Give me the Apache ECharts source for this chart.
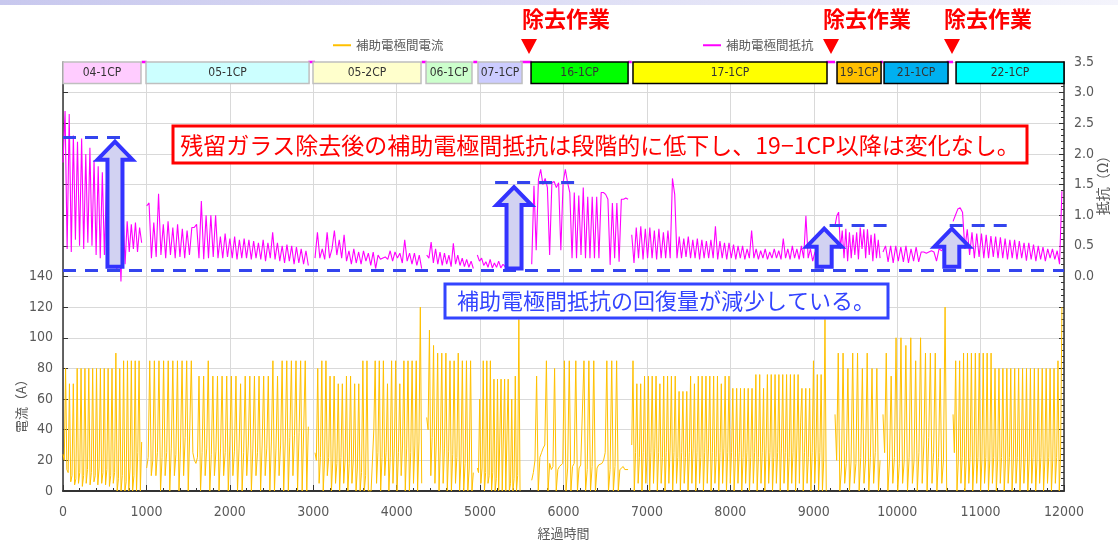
<!DOCTYPE html>
<html><head><meta charset="utf-8">
<script src="https://cdn.jsdelivr.net/npm/echarts@6/dist/echarts.min.js"></script>
<style>html,body{margin:0;padding:0;background:#fff}#c{width:1118px;height:545px}</style>
</head><body><div id="c"></div>
<script>
// ---------- CP segments ----------
const cpNames = ['04-1CP','05-1CP','05-2CP','06-1CP','07-1CP','16-1CP','17-1CP','19-1CP','21-1CP','22-1CP'];
const cpBoxStart = [0, 995, 2997, 4352, 4975, 5611, 6833, 9279, 9843, 10706];
const cpBoxEnd = [935, 2950, 4292, 4903, 5503, 6774, 9159, 9807, 10610, 12000];
// data time range of each segment
const segStart = [0, 1003, 3021, 4360, 4967, 5619, 6818, 9255, 9830, 10670];
const segEnd = [943, 2941, 4300, 4919, 5479, 6774, 9150, 9795, 10594, 11975];

// ---------- current (A), values read along each segment ----------
const cur04 = [24,20,80,14, 12,70,6, 10,70,4, 8,80,5, 12,80,3, 10,80,5, 14,80,4, 12,80,6, 10,80,4, 15,80,5, 12,80,4, 14,80,3, 10,80,5, 12,90,0, 8,80,0, 10,85,0, 6,85,0, 15,85,0, 10,85,0, 25,85,0, 32];
const cur05a = [15,22,85,10, 20,85,10, 25,85,0, 22,85,10, 25,85,0, 28,85,10, 24,85,0, 30,85,10, 35,85,0, 40,85,25, 20,18,
  22,75,0, 25,75,10, 28,85,0, 24,75,10, 26,75,0, 28,75,10, 25,75,0, 30,75,10, 26,75,0, 28,70,0, 25,75,10, 30,75,0, 28,75,10, 25,75,0, 30,75,10, 28,75,0, 32,85,0, 28,75,10, 30,85,0, 32,85,0, 35,85,10, 36,85,0, 38,85,0, 40,85,0, 42];
const cur05b = [25,20,80,5, 22,85,0, 20,85,10, 22,75,0, 20,75,5, 18,70,0, 22,70,5, 20,75,0, 18,75,5, 20,70,0, 15,70,0, 12,85,0, 10,85,0, 0,0, 20,40,85,5, 25,85,0, 22,85,10, 25,70,0, 22,85,5, 28,85,0, 25,70,10, 30,85,0, 28,85,0, 25,85,5, 30,85,0, 32,120,5];
const cur06 = [48,40,105,10, 35,95,5, 32,90,0, 30,90,5, 28,90,0, 26,85,0, 24,85,5, 22,90,0, 20,85,0, 18,85,0, 15,85,0, 12];
const cur07 = [15,12,60,5, 15,85,0, 12,85,5, 10,85,0, 12,73,0, 8,73,0, 0,73,0, 0,73,0, 0,73,0, 5,60,0, 8,75,0, 10,112,0];
const cur16 = [7,12,20,75,0, 22,25,28,30,85,0, 18,14,16,80,0, 14,16,15,18,85,0, 15,85,0, 16,18,85,0, 15,17,16,85,0, 14,85,0, 16,85,0, 15,17,16,18,20,25,85,0, 14,85,0, 16,85,0, 14,15,16,14,13,14];
const cur17 = [30,85,0, 25,70,5, 22,70,0, 25,75,5, 22,75,0, 25,75,5, 28,75,0, 25,70,5, 22,75,0, 25,75,5, 28,75,0, 25,75,5, 22,65,0, 25,65,5, 22,65,0, 25,75,5, 28,70,0, 25,75,5, 22,75,0, 25,75,5, 28,75,0, 25,75,5, 22,75,0, 25,70,5, 28,75,0, 25,75,5,
  25,67,0, 22,67,5, 25,67,0, 22,67,5, 25,67,0, 22,67,5, 25,76,0, 22,76,5, 25,67,0, 28,76,5, 25,76,0, 22,76,5, 25,76,0, 28,76,5, 25,76,0, 22,76,5, 25,76,0, 30,76,5, 45,67,0, 25,67,5, 22,67,0, 25,85,5, 28,76,0, 25,76,0, 20,112,0];
const cur19 = [50,20,90,0, 15,90,5, 18,80,0, 20,90,5, 18,90,0, 22,80,5, 20,90,0, 22,80,5, 25,80,0, 20];
const cur21 = [50,25,90,0, 20,75,5, 22,100,0, 18,100,5, 20,95,0, 22,100,5, 20,85,0, 25,100,5, 30,90,0, 35,90,5, 25,90,0, 22,80,5, 20,120,0];
const cur22 = [50,25,85,0, 20,85,5, 22,90,0, 20,90,5, 22,90,0, 20,90,5, 22,90,0, 20,90,5, 22,90,0, 20,90,5, 22,80,0, 20,80,5, 22,80,0, 20,80,5, 22,80,0, 20,80,5, 22,80,0, 20,80,5, 22,80,0, 20,80,5, 22,80,0, 20,80,5, 22,80,0, 20,80,5, 22,80,0, 20,80,5, 22,85,0, 25,120];

// ---------- resistance (Ω) ----------
const res04 = [1.86,2.7,0.45,2.65,0.4,2.3,0.6,2.2,0.5,2.25,0.45,2.0,0.55,2.1,0.5,1.9,0.35,1.8,0.3,1.7,0.35,1.5,0.2,1.3,0.25,1.0,0.1,0.95,-0.08,1.05,0.2,0.9,0.4,0.85,0.45,0.88,0.4,0.8,0.55];
const res05a = [1.15,1.2,0.3,0.88,0.32,1.35,0.35,0.85,0.3,0.9,0.35,0.8,0.3,0.85,0.32,0.78,0.3,0.75,0.35,0.8,0.8,0.85,0.3,1.23,0.28,1.0,0.3,1.0,0.32,1.0,0.3,0.65,0.3,0.7,0.32,0.62,0.3,0.65,0.28,0.6,0.3,0.62,0.3,0.6,0.28,0.58,0.3,0.55,0.28,0.6,0.25,0.55,0.3,0.72,0.28,0.55,0.25,0.5,0.22,0.52,0.25,0.5,0.2,0.48,0.22,0.45,0.2,0.42,0.18];
const res05b = [0.3,0.72,0.3,0.45,0.28,0.72,0.3,0.45,0.75,0.35,0.6,0.3,0.68,0.25,0.42,0.2,0.45,0.22,0.4,0.2,0.42,0.25,0.38,0.18,0.4,0.13,0.35,0.28,0.3,0.32,0.28,0.42,0.25,0.4,0.3,0.38,0.22,0.6,0.25,0.38,0.2,0.38,0.18,0.35,0.13];
const res06 = [0.35,0.3,0.56,0.22,0.45,0.2,0.4,0.18,0.38,0.2,0.35,0.16,0.54,0.2,0.35,0.18,0.3,0.16,0.28,0.15,0.25,0.13];
const res07 = [0.35,0.25,0.3,0.18,0.24,0.15,0.28,0.14,0.22,0.15,0.25,0.14,0.2,0.16,0.18,0.17,0.2,0.18,0.22,0.2,0.15];
const res16 = [0.2,1.48,0.43,1.58,1.75,1.5,1.6,1.45,0.35,1.53,1.55,1.45,1.53,0.43,1.53,1.75,1.53,1.37,0.3,1.37,0.3,1.32,0.35,1.45,0.3,1.3,0.3,1.3,0.3,1.3,0.3,1.37,1.37,1.34,1.26,0.19,1.2,0.3,1.2,0.24,1.26,1.26,1.28,1.26];
const res17 = [0.68,0.22,0.8,0.3,0.82,0.28,0.78,0.3,0.8,0.3,0.75,0.28,0.78,0.3,0.72,0.3,0.75,0.3,1.6,1.34,0.3,0.65,0.3,0.62,0.32,0.65,0.3,0.6,0.3,0.62,0.28,0.6,0.3,0.58,0.3,0.6,0.3,0.82,0.28,0.58,0.3,0.55,0.28,0.55,0.3,0.52,0.28,0.5,
  0.3,0.5,0.28,0.45,0.3,0.75,0.3,0.45,0.28,0.42,0.3,0.45,0.28,0.4,0.3,0.45,0.3,0.42,0.28,0.62,0.3,0.45,0.28,0.5,0.3,0.45,0.28,0.5,0.3,0.99,0.3,0.45,0.25,0.4,0.2,0.35,0.13,0.3,0.15];
const res19 = [0.83,0.99,1.05,0.45,0.75,0.3,0.78,0.25,0.72,0.3,0.68,0.35,0.72,0.28,0.8,0.45,0.77,0.3,0.77,0.35,0.68,0.25,0.7,0.3,0.6,0.3];
const res21 = [0.4,0.5,0.24,0.5,0.22,0.5,0.25,0.48,0.24,0.5,0.22,0.45,0.25,0.48,0.24,0.4,0.4,0.38,0.4,0.42,0.4,0.25,0.45,0.42,0.48,0.5];
const res22 = [0.9,1.0,1.1,1.12,1.05,0.45,0.77,0.35,0.72,0.3,0.7,0.32,0.7,0.3,0.68,0.3,0.66,0.32,0.65,0.3,0.64,0.3,0.62,0.28,0.6,0.3,0.6,0.28,0.58,0.3,0.55,0.26,0.55,0.28,0.52,0.25,0.5,0.28,0.48,0.25,0.45,0.3,0.45,0.28,0.42,0.2,1.39];

const curSegs = [cur04,cur05a,cur05b,cur06,cur07,cur16,cur17,cur19,cur21,cur22];
const resSegs = [res04,res05a,res05b,res06,res07,res16,res17,res19,res21,res22];

// ---------- annotation positions (data units) ----------
const levelLines = [[0,12000,0.11],[0,740,2.28],[5180,6220,1.54],[9190,9890,0.83],[10630,11320,0.83]];
const arrowX = [623, 5407, 9125, 10655];
const arrowBottom = [0.16, 0.13, 0.16, 0.16];
const arrowTip = [2.2, 1.46, 0.78, 0.78];

// ---------- styles ----------
const cpFill = ['#FFCCFF','#CCFFFF','#FFFFCC','#CCFFCC','#CCCCFF','#00FF00','#FFFF00','#FFC000','#00B0F0','#00FFFF'];
const cpBorder = ['#BFBFBF','#BFBFBF','#BFBFBF','#BFBFBF','#BFBFBF','#000','#000','#000','#000','#000'];
const CUR = '#FFC000', RES = '#FF00FF';
const NUMF = '"DejaVu Sans Condensed","Liberation Sans Narrow","Noto Sans",sans-serif';
const JPF = '"Noto Sans CJK JP",sans-serif';

function segPoints(x0, x1, vals){
  const n = vals.length;
  return vals.map((v,i)=>[x0 + (x1-x0)*i/(n-1), v]);
}

const series = [];
curSegs.forEach((vals,i)=>{
  series.push({name:'補助電極間電流', type:'line', yAxisIndex:0, showSymbol:false, symbol:'none',
    lineStyle:{color:CUR, width:1}, itemStyle:{color:CUR}, data: segPoints(segStart[i], segEnd[i], vals), z:2});
});
resSegs.forEach((vals,i)=>{
  const s = {name:'補助電極間抵抗', type:'line', yAxisIndex:1, showSymbol:false, symbol:'none',
    lineStyle:{color:RES, width:1.1}, itemStyle:{color:RES}, data: segPoints(segStart[i], segEnd[i], vals), z:3};
  if (i===0){
    s.markArea = {silent:true, z:4,
      data: cpNames.map((n,k)=>[
        {name:n, xAxis:cpBoxStart[k], yAxis:3.15, itemStyle:{color:cpFill[k], borderColor:cpBorder[k], borderWidth:1.5, opacity:1},
         label:{show:true, position:'inside', color:'#333', fontSize:12, fontFamily:NUMF}},
        {xAxis:cpBoxEnd[k], yAxis:3.5}])};
    s.markLine = {silent:true, symbol:'none', z:5, label:{show:false},
      lineStyle:{color:'#3344EE', width:3, type:[13,9]},
      data: levelLines.map(l=>[{coord:[l[0],l[2]]},{coord:[l[1],l[2]]}])};
  }
  series.push(s);
});
// clipped resistance during gaps shows at the very top
const gapData = [];
for (let i=0;i<segEnd.length-1;i++){ gapData.push([segEnd[i],3.5],[segStart[i+1],3.5]); if(i<segEnd.length-2) gapData.push([segStart[i+1],'-']); }
series.push({name:'gap', type:'line', yAxisIndex:1, showSymbol:false, symbol:'none', clip:false, connectNulls:false,
  lineStyle:{color:RES, width:2.5}, data: gapData, z:1});

const option = {
  animation:false,
  backgroundColor:'#fff',
  grid:{left:63, right:54, top:62, bottom:51},
  legend:[
    {data:['補助電極間電流'], left:328, top:34, icon:'rect', itemWidth:18, itemHeight:2, itemGap:4,
      textStyle:{color:'#595959', fontSize:12.5, fontFamily:JPF}},
    {data:['補助電極間抵抗'], left:698, top:34, icon:'rect', itemWidth:18, itemHeight:2, itemGap:4,
      textStyle:{color:'#595959', fontSize:12.5, fontFamily:JPF}}
  ],
  xAxis:{type:'value', min:0, max:12000, interval:1000,
    name:'経過時間', nameLocation:'middle', nameGap:36, nameTextStyle:{color:'#595959', fontSize:13, fontFamily:JPF},
    axisLine:{lineStyle:{color:'#333', width:2}},
    axisTick:{inside:true, length:6, lineStyle:{color:'#333'}},
    minorTick:{show:true, splitNumber:5, length:3, lineStyle:{color:'#333'}},
    axisLabel:{color:'#595959', fontSize:14, fontFamily:NUMF, margin:14, formatter:v=>String(v)},
    splitLine:{show:true, lineStyle:{color:'#D9D9D9', width:1}}},
  yAxis:[
    {type:'value', min:0, max:280, interval:20, position:'left',
      axisLine:{show:true, lineStyle:{color:'#333', width:1.5}},
      axisTick:{show:true, inside:true, length:5, lineStyle:{color:'#333'}},
      axisLabel:{color:'#595959', fontSize:14, fontFamily:NUMF, margin:10, formatter:v=> v<=140 ? String(v) : ''},
      splitLine:{show:true, lineStyle:{color:'#D9D9D9', width:1}}},
    {type:'value', min:-3.5, max:3.5, interval:0.5, position:'right',
      axisLine:{show:true, lineStyle:{color:'#333', width:1.5}},
      axisTick:{show:true, inside:true, length:5, lineStyle:{color:'#333'}},
      minorTick:{show:true, splitNumber:5, length:3, lineStyle:{color:'#333'}},
      axisLabel:{color:'#595959', fontSize:14, fontFamily:NUMF, margin:10, formatter:v=> v>=-0.001 ? Math.abs(v).toFixed(1) : ''},
      splitLine:{show:false}}
  ],
  series: series
};

const chart = echarts.init(document.getElementById('c'), null, {renderer:'canvas'});
chart.setOption(option);

const ri = curSegs.length; // first resistance series index
const graphics = [];
graphics.push({type:'rect', left:0, top:0, shape:{width:1118, height:5}, z:100,
  style:{fill:new echarts.graphic.LinearGradient(0,0,1,0,[{offset:0,color:'#c8c8ee'},{offset:1,color:'#f4f4fc'}])}});
// arrows
arrowX.forEach((x,i)=>{
  const pb = chart.convertToPixel({seriesIndex:ri}, [x, arrowBottom[i]]);
  const pt = chart.convertToPixel({seriesIndex:ri}, [x, arrowTip[i]]);
  const cx = pb[0], yb = pb[1], yt = pt[1], hs = 7.5, hh = 17.5, hd = 18;
  graphics.push({type:'polygon', z:110,
    shape:{points:[[cx-hs,yb],[cx-hs,yt+hd],[cx-hh,yt+hd],[cx,yt],[cx+hh,yt+hd],[cx+hs,yt+hd],[cx+hs,yb]]},
    style:{fill:'#D2D2F2', stroke:'#3333FF', lineWidth:4, lineJoin:'miter'}});
});
// annotation boxes
graphics.push({type:'rect', z:120, shape:{x:173, y:126, width:854, height:37},
  style:{fill:'#fff', stroke:'#FF0000', lineWidth:3}});
graphics.push({type:'text', z:121, x:600, y:145,
  style:{text:'残留ガラス除去後の補助電極間抵抗は段階的に低下し、19−1CP以降は変化なし。', fill:'#FF0000', font:'23px "Noto Sans CJK JP", sans-serif', textAlign:'center', textVerticalAlign:'middle'}});
graphics.push({type:'rect', z:120, shape:{x:445, y:284, width:443, height:34},
  style:{fill:'#fff', stroke:'#3344FF', lineWidth:3}});
graphics.push({type:'text', z:121, x:666, y:301,
  style:{text:'補助電極間抵抗の回復量が減少している。', fill:'#3344FF', font:'22px "Noto Sans CJK JP", sans-serif', textAlign:'center', textVerticalAlign:'middle'}});
// removal-work markers
[[566,529],[867,831],[988,952]].forEach(p=>{
  graphics.push({type:'text', z:121, x:p[0], y:19,
    style:{text:'除去作業', fill:'#FF0000', font:'bold 22px "Noto Sans CJK JP", sans-serif', textAlign:'center', textVerticalAlign:'middle'}});
  graphics.push({type:'polygon', z:121, shape:{points:[[p[1]-8,39],[p[1]+8,39],[p[1],54]]}, style:{fill:'#FF0000'}});
});
// axis titles
graphics.push({type:'text', z:121, x:21, y:403, rotation:Math.PI/2,
  style:{text:'電流（A）', fill:'#595959', font:'13px "Noto Sans CJK JP", sans-serif', textAlign:'center', textVerticalAlign:'middle'}});
graphics.push({type:'text', z:121, x:1103, y:182, rotation:Math.PI/2,
  style:{text:'抵抗（Ω）', fill:'#595959', font:'14px "Noto Sans CJK JP", sans-serif', textAlign:'center', textVerticalAlign:'middle'}});
chart.setOption({graphic: graphics});
</script></body></html>
